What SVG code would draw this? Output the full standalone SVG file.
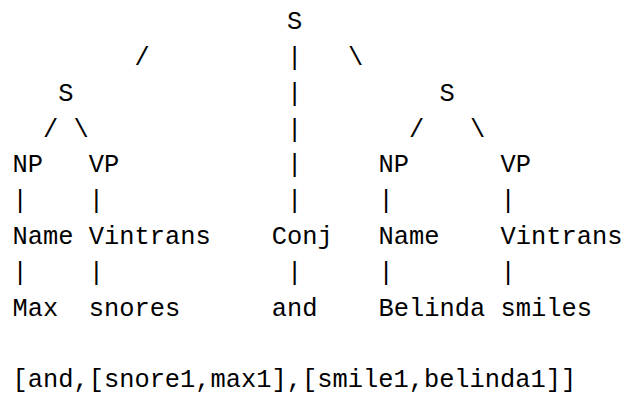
<svg xmlns="http://www.w3.org/2000/svg" width="622" height="394" viewBox="0 0 622 394">
<style>
text { font-family: "Liberation Mono", "DejaVu Sans Mono", monospace; font-size: 25.4px; fill: #000; white-space: pre; }
</style>
<rect width="622" height="394" fill="#fff"/>
<g id="connectors">
  <text x="134.5" y="64.7">/</text>
  <text x="287" y="64.7">|</text>
  <text x="348" y="64.7">\</text>
  <text x="287" y="100.6">|</text>
  <text x="43" y="136.5">/</text>
  <text x="73.5" y="136.5">\</text>
  <text x="287" y="136.5">|</text>
  <text x="409" y="136.5">/</text>
  <text x="470" y="136.5">\</text>
  <text x="287" y="172.4">|</text>
  <text x="12.5" y="208.3">|</text>
  <text x="88.75" y="208.3">|</text>
  <text x="287" y="208.3">|</text>
  <text x="378.5" y="208.3">|</text>
  <text x="500.5" y="208.3">|</text>
  <text x="12.5" y="280.1">|</text>
  <text x="88.75" y="280.1">|</text>
  <text x="287" y="280.1">|</text>
  <text x="378.5" y="280.1">|</text>
  <text x="500.5" y="280.1">|</text>
</g>
<g id="s-root"><text x="287" y="28.8">S</text></g>
<g id="s-left"><text x="58.25" y="100.6">S</text></g>
<g id="s-right"><text x="439.5" y="100.6">S</text></g>
<g id="np-left"><text x="12.5" y="172.4">NP</text></g>
<g id="vp-left"><text x="88.75" y="172.4">VP</text></g>
<g id="np-right"><text x="378.5" y="172.4">NP</text></g>
<g id="vp-right"><text x="500.5" y="172.4">VP</text></g>
<g id="name-left"><text x="12.5" y="244.2">Name</text></g>
<g id="vintrans-left"><text x="88.75" y="244.2">Vintrans</text></g>
<g id="conj"><text x="271.75" y="244.2">Conj</text></g>
<g id="name-right"><text x="378.5" y="244.2">Name</text></g>
<g id="vintrans-right"><text x="500.5" y="244.2">Vintrans</text></g>
<g id="max"><text x="12.5" y="316">Max</text></g>
<g id="snores"><text x="88.75" y="316">snores</text></g>
<g id="and"><text x="271.75" y="316">and</text></g>
<g id="belinda"><text x="378.5" y="316">Belinda</text></g>
<g id="smiles"><text x="500.5" y="316">smiles</text></g>
<g id="logical-form"><text x="12.5" y="386.5">[and,[snore1,max1],[smile1,belinda1]]</text></g>
</svg>
